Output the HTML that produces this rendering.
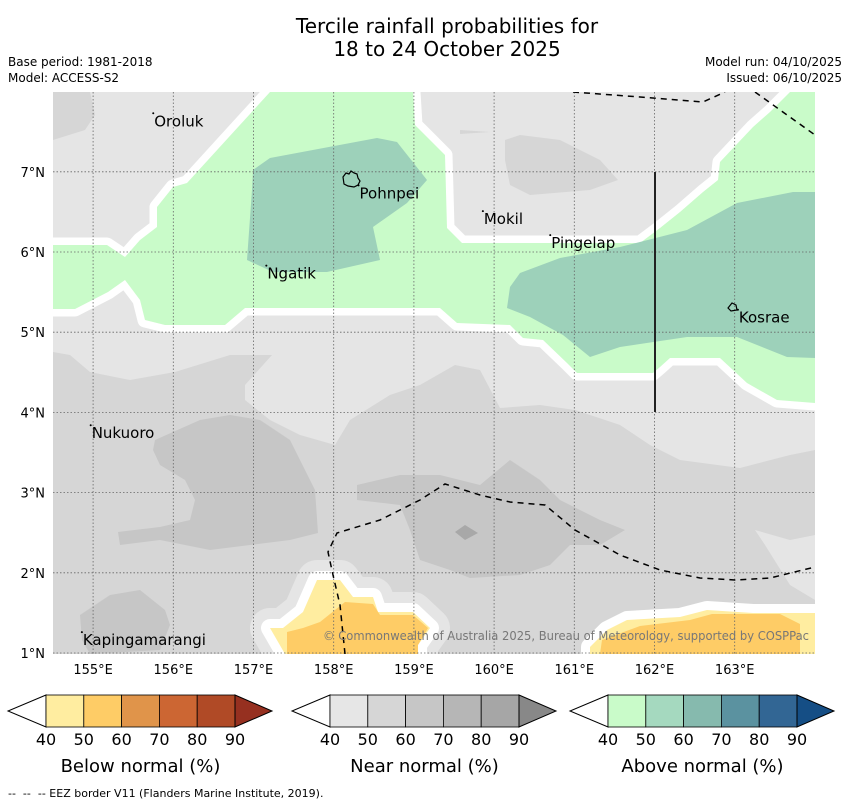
<!DOCTYPE html>
<html><head><meta charset="utf-8"><style>
body{margin:0;background:#fff;}
svg{display:block;font-family:"DejaVu Sans","Liberation Sans",sans-serif;}
</style></head><body>
<svg id="s" width="850" height="804" viewBox="0 0 850 804" xmlns="http://www.w3.org/2000/svg">
<text x="447" y="33" font-size="20" text-anchor="middle">Tercile rainfall probabilities for</text>
<text x="447" y="56" font-size="20" text-anchor="middle">18 to 24 October 2025</text>
<text x="8" y="66" font-size="12">Base period: 1981-2018</text>
<text x="8" y="82" font-size="12">Model: ACCESS-S2</text>
<text x="842" y="66" font-size="12" text-anchor="end">Model run: 04/10/2025</text>
<text x="842" y="82" font-size="12" text-anchor="end">Issued: 06/10/2025</text>
<defs><clipPath id="mc"><rect x="53" y="92" width="762" height="562"/></clipPath></defs>
<g clip-path="url(#mc)">
<rect x="53" y="92" width="762" height="562" fill="#d6d6d6"/>
<polygon fill="#e5e5e5" points="53,92 815,92 815,450 790,455 740,468 680,460 650,445 620,425 575,410 540,405 500,408 480,370 455,365 420,385 390,395 350,420 335,445 300,435 270,420 245,400 245,385 272,355 230,355 175,372 130,380 90,372 70,355 53,352"/>
<polygon fill="#e5e5e5" points="755,530 790,540 815,535 815,600 790,585 765,545"/>
<polygon fill="#d6d6d6" points="53,92 90,92 95,115 85,130 53,140"/>
<polygon fill="#d6d6d6" points="505,140 520,135 560,140 600,160 618,180 590,190 530,195 510,185 505,160"/>
<polygon fill="#d6d6d6" points="460,130 490,132 460,134"/>
<polygon fill="#c6c6c6" points="155,440 200,420 230,415 260,420 290,440 305,470 315,490 318,533 290,540 250,545 210,550 160,540 120,545 118,532 160,527 190,520 195,500 185,480 160,465 153,450"/>
<polygon fill="#c6c6c6" points="80,615 110,595 140,590 165,610 170,625 160,650 90,654 82,640"/>
<polygon fill="#c6c6c6" points="357,485 400,475 440,475 480,485 510,460 540,480 560,500 600,520 625,530 600,545 570,545 550,565 520,575 470,578 450,570 420,560 410,530 400,505 357,500"/>
<polygon fill="#a8a8a8" points="455,532 465,525 478,533 465,540"/>
<g>
<polygon fill="#c9fbc9" stroke="#fff" stroke-width="15" stroke-linejoin="round" points="270,92 413,92 415,125 445,155 447,228 462,243 640,243 660,228 680,212 703,192 718,180 720,162 753,127 770,112 790,92 815,92 815,403 777,400 747,383 720,358 670,358 660,367 653,373 577,373 567,363 543,340 523,338 510,325 457,323 440,308 415,308 298,308 245,308 225,325 165,325 145,320 140,300 125,280 108,292 75,309 53,309 53,245 107,245 125,257 140,240 157,227 157,207 173,187 187,183"/>
<polygon fill="#c9fbc9" points="270,92 413,92 415,125 445,155 447,228 462,243 640,243 660,228 680,212 703,192 718,180 720,162 753,127 770,112 790,92 815,92 815,403 777,400 747,383 720,358 670,358 660,367 653,373 577,373 567,363 543,340 523,338 510,325 457,323 440,308 415,308 298,308 245,308 225,325 165,325 145,320 140,300 125,280 108,292 75,309 53,309 53,245 107,245 125,257 140,240 157,227 157,207 173,187 187,183"/>
<polygon fill="#9dd1ba" points="253,170 270,158 377,138 397,142 427,180 407,203 373,227 380,260 327,272 273,272 247,260 252,190"/>
<polygon fill="#9dd1ba" points="507,308 510,287 520,273 560,258 620,247 687,230 737,203 793,192 815,192 815,358 787,357 737,337 687,337 620,347 590,357 563,335 530,317"/>
</g>
<g>
<polygon fill="#e5e5e5" stroke="#e5e5e5" stroke-width="40" stroke-linejoin="round" points="317,580 340,580 353,597 373,597 378,612 413,612 430,628 418,645 418,654 285,654 270,628 283,628 303,612"/>
<polygon fill="#fff" stroke="#fff" stroke-width="18" stroke-linejoin="round" points="317,580 340,580 353,597 373,597 378,612 413,612 430,628 418,645 418,654 285,654 270,628 283,628 303,612"/>
<polygon fill="#ffeda0" points="317,580 340,580 353,597 373,597 378,612 413,612 430,628 418,645 418,654 285,654 270,628 283,628 303,612"/>
<polygon fill="#fecc66" points="345,602 373,604 380,615 413,615 428,628 418,645 418,654 287,654 287,632 303,628 320,622"/>
<polygon fill="#fff" stroke="#fff" stroke-width="18" stroke-linejoin="round" points="590,654 590,647 607,630 627,620 680,617 707,610 753,613 815,613 815,654"/>
<polygon fill="#ffeda0" points="590,654 590,647 607,630 627,620 680,617 707,610 753,613 815,613 815,654"/>
<polygon fill="#fecc66" points="600,654 602,640 640,626 690,620 712,614 780,614 800,624 800,654"/>
</g>
<g id="grid"></g>
<polyline fill="none" stroke="#000" stroke-width="1.5" stroke-dasharray="6,5" points="573,92 640,97 703,102 725,92"/>
<polyline fill="none" stroke="#000" stroke-width="1.5" stroke-dasharray="6,5" points="755,92 815,135"/>
<polyline fill="none" stroke="#000" stroke-width="1.5" stroke-dasharray="6,5" points="345,654 340,605 333,575 328,552 337,533 380,520 420,500 445,484 480,495 510,502 545,505 575,530 620,555 660,570 700,578 735,580 770,578 815,567"/>
<line x1="655" y1="172" x2="655" y2="412" stroke="#222" stroke-width="2"/>
<path d="M343,177 l3,-4 l3,1 l2,-3 l3,2 l3,1 l1,4 l2,3 l-2,4 l-4,2 l-6,-1 l-4,-2 z" fill="none" stroke="#000" stroke-width="1.2"/>
<path d="M728,308 l4,-5 l4,2 l1,5 l-6,1 z" fill="none" stroke="#000" stroke-width="1.2"/>
<g id="isl"></g>
<text x="323" y="640" font-size="12" fill="#777" textLength="486" lengthAdjust="spacingAndGlyphs">© Commonwealth of Australia 2025, Bureau of Meteorology, supported by COSPPac</text>
</g>
<g id="axes"></g>
<g id="cbars"></g>
<text x="8" y="797" font-size="11" xml:space="preserve">--  --  -- EEZ border V11 (Flanders Marine Institute, 2019).</text>
</svg>
<script>
const lonTicks=[155,156,157,158,159,160,161,162,163];
const latTicks=[1,2,3,4,5,6,7];
const islandNames=["Oroluk","Pohnpei","Mokil","Pingelap","Ngatik","Kosrae","Nukuoro","Kapingamarangi"];
const islandLon=[155.75,158.31,159.86,160.70,157.16,163.04,154.97,154.86];
const islandLat=[7.73,6.83,6.51,6.21,5.83,5.28,3.84,1.26];
const cbTicks=[40,50,60,70,80,90];
const belowColors=["#ffeda0","#fecc66","#e0944a","#cc6633","#b04a26","#963020"];
const nearColors=["#e6e6e6","#d6d6d6","#c6c6c6","#b6b6b6","#a6a6a6","#888888"];
const aboveColors=["#c9fbc9","#a5d9bf","#86baae","#5b92a0","#326694","#154e85"];
const cbTitles=["Below normal (%)","Near normal (%)","Above normal (%)"];
const NS="http://www.w3.org/2000/svg";
function X(lon){return 53+(lon-154.5)*80.2;}
function Y(lat){return 653-(lat-1)*80.2;}
function mk(tag,attrs,parent,txt){const e=document.createElementNS(NS,tag);for(const k in attrs)e.setAttribute(k,attrs[k]);if(txt!==undefined)e.textContent=txt;parent.appendChild(e);return e;}
const grid=document.getElementById('grid'),axes=document.getElementById('axes');
lonTicks.forEach(l=>{
 const g=mk('line',{x1:X(l),x2:X(l),y1:92,y2:654,stroke:'#666','stroke-width':0.8,'stroke-dasharray':'1.5,2'},grid);
 
 
 const t=mk('text',{x:X(l),y:674,'font-size':13,'text-anchor':'middle'},axes,l+'°E');
 
 
});
latTicks.forEach(l=>{
 const g=mk('line',{x1:53,x2:815,y1:Y(l),y2:Y(l),stroke:'#666','stroke-width':0.8,'stroke-dasharray':'1.5,2'},grid);
 
 
 const t=mk('text',{x:45,y:Y(l)+5,'font-size':13,'text-anchor':'end'},axes,l+'°N');
 
 
});
const isl=document.getElementById('isl');
islandNames.forEach((n,i)=>{
 const x=X(islandLon[i]),y=Y(islandLat[i]);
 const d=mk('circle',{cx:x,cy:y,r:1,fill:'#000'},isl);
 
 
 const t=mk('text',{x:x+1,y:y+13,'font-size':15},isl,n);
 
 
});
const cb=document.getElementById('cbars');
const starts=[46,330,608],seg=37.8;
[belowColors,nearColors,aboveColors].forEach((cols,b)=>{
 const x0=starts[b];
 const g=mk('g',{},cb);
 
 
 mk('polygon',{points:`${x0},695 ${x0-38},711 ${x0},727`,fill:'#fff',stroke:'#000','stroke-width':1},g);
 for(let i=0;i<5;i++){mk('rect',{x:x0+i*seg,y:695,width:seg,height:32,fill:cols[i],stroke:'#000','stroke-width':0.8},g);}
 const xe=x0+5*seg;
 mk('polygon',{points:`${xe},695 ${xe+37},711 ${xe},727`,fill:cols[5],stroke:'#000','stroke-width':1},g);
 cbTicks.forEach((v,i)=>{const t=mk('text',{x:x0+i*seg,y:745,'font-size':16,'text-anchor':'middle'},g,v);
  
  });
 const tt=mk('text',{x:x0+2.5*seg,y:772,'font-size':18,'text-anchor':'middle'},g,cbTitles[b]);
 
 
});
</script>
</body></html>
